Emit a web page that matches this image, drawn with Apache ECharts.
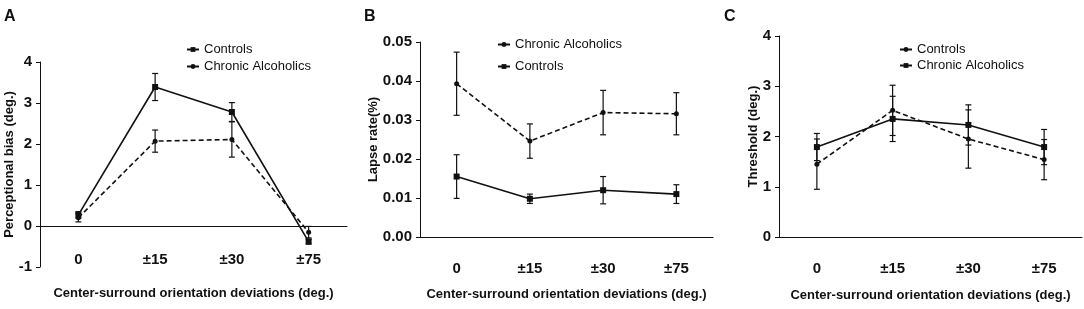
<!DOCTYPE html>
<html>
<head>
<meta charset="utf-8">
<script src="https://cdn.jsdelivr.net/npm/echarts@6/dist/echarts.min.js"></script>
<style>
  html, body { margin: 0; padding: 0; background: #fff; }
  #wrap { position: relative; width: 1084px; height: 309px; }
  .panel { position: absolute; top: 0; height: 309px; }
</style>
</head>
<body>
<div id="wrap">
  <div id="panelA" class="panel" style="left:0;width:360px"></div>
  <div id="panelB" class="panel" style="left:360px;width:360px"></div>
  <div id="panelC" class="panel" style="left:720px;width:364px"></div>
</div>
<script>
// shared x categories
var categories = ["0", "\u00b115", "\u00b130", "\u00b175"];
var xTitle = "Center-surround orientation deviations (deg.)";

// A - perceptional bias
var biasControls = [0.27, 3.39, 2.78, -0.38];
var biasControlsErr = [0.08, 0.33, 0.23, 0.06];
var biasAlcoholics = [0.20, 2.07, 2.11, -0.15];
var biasAlcoholicsErr = [0.10, 0.27, 0.43, 0.14];

// B - lapse rate
var lapseAlcoholics = [0.0393, 0.0246, 0.0319, 0.0316];
var lapseAlcoholicsErr = [0.0081, 0.0044, 0.0057, 0.0054];
var lapseControls = [0.0155, 0.0098, 0.0120, 0.0110];
var lapseControlsErr = [0.0056, 0.0012, 0.0035, 0.0024];

// C - threshold
var threshControls = [1.45, 2.52, 1.95, 1.54];
var threshControlsErr = [0.50, 0.50, 0.58, 0.40];
var threshAlcoholics = [1.79, 2.35, 2.23, 1.79];
var threshAlcoholicsErr = [0.27, 0.45, 0.40, 0.35];

var FONT = "'Liberation Sans', Arial, sans-serif";
var INK = "#111";

function errData(vals, errs) {
  return vals.map(function (v, i) {
    return [i, v - errs[i], v + errs[i]];
  });
}

function errorBars(name, vals, errs) {
  return {
    type: "custom",
    name: name,
    silent: true,
    z: 3,
    data: errData(vals, errs),
    encode: { x: 0, y: [1, 2] },
    renderItem: function (params, api) {
      var x = api.value(0);
      var lo = api.coord([x, api.value(1)]);
      var hi = api.coord([x, api.value(2)]);
      var w = 3;
      var st = { stroke: INK, lineWidth: 1.2 };
      return {
        type: "group",
        children: [
          { type: "line", shape: { x1: lo[0], y1: lo[1], x2: hi[0], y2: hi[1] }, style: st },
          { type: "line", shape: { x1: lo[0] - w, y1: lo[1], x2: lo[0] + w, y2: lo[1] }, style: st },
          { type: "line", shape: { x1: hi[0] - w, y1: hi[1], x2: hi[0] + w, y2: hi[1] }, style: st }
        ]
      };
    }
  };
}

function lineSeries(name, vals, dashed, symbol, size) {
  return {
    type: "line",
    name: name,
    data: vals,
    symbol: symbol,
    symbolSize: size,
    z: 4,
    itemStyle: { color: INK },
    lineStyle: { color: INK, width: 1.6, type: dashed ? [5, 3] : "solid" }
  };
}

function makeChart(id, cfg) {
  var chart = echarts.init(document.getElementById(id));
  var grid = cfg.grid;
  grid.outerBoundsMode = "none";
  grid.containLabel = false;
  chart.setOption({
    animation: false,
    textStyle: { fontFamily: FONT },
    title: {
      text: cfg.letter,
      left: -1,
      top: 4,
      textStyle: { fontSize: 16, fontWeight: "bold", color: INK, fontFamily: FONT }
    },
    legend: {
      orient: "vertical",
      left: cfg.legendLeft,
      top: cfg.legendTop,
      itemWidth: 12,
      itemHeight: 6,
      itemGap: cfg.legendGap,
      data: cfg.legendOrder,
      lineStyle: { type: "solid" },
      textStyle: { fontSize: 13, color: INK, fontFamily: FONT }
    },
    grid: grid,
    xAxis: {
      type: "category",
      data: categories,
      boundaryGap: true,
      name: xTitle,
      nameLocation: "middle",
      nameGap: cfg.xNameGap,
      nameMoveOverlap: false,
      nameTextStyle: { fontSize: 13, fontWeight: "bold", color: INK, fontFamily: FONT },
      axisLine: { onZero: true, lineStyle: { color: INK, width: 1 } },
      axisTick: { alignWithLabel: true, length: 4, lineStyle: { color: INK } },
      axisLabel: { margin: cfg.xLabelMargin, fontSize: 15, fontWeight: "bold", color: INK, fontFamily: FONT }
    },
    yAxis: {
      type: "value",
      min: cfg.yMin,
      max: cfg.yMax,
      interval: cfg.yInterval,
      name: cfg.yTitle,
      nameLocation: "middle",
      nameGap: cfg.yNameGap,
      nameMoveOverlap: false,
      nameTextStyle: { fontSize: 13, fontWeight: "bold", color: INK, fontFamily: FONT },
      axisLine: { show: true, onZero: false, lineStyle: { color: INK, width: 1 } },
      axisTick: { show: true, length: 4, lineStyle: { color: INK } },
      splitLine: { show: false },
      axisLabel: {
        margin: 8,
        fontSize: 15,
        fontWeight: "bold",
        color: INK,
        fontFamily: FONT,
        formatter: cfg.yFormat
      }
    },
    series: cfg.series
  });
  return chart;
}

var chartA = makeChart("panelA", {
  letter: "A",
  legendLeft: 181, legendTop: 38, legendGap: 4,
  legendOrder: ["Controls", "Chronic Alcoholics"],
  grid: { left: 40, top: 62, width: 307, height: 205 },
  xNameGap: 20, xLabelMargin: -15,
  yMin: -1, yMax: 4, yInterval: 1,
  yTitle: "Perceptional bias (deg.)",
  yNameGap: 24,
  yFormat: function (v) { return String(v); },
  series: [
    errorBars("errA1", biasControls, biasControlsErr),
    errorBars("errA2", biasAlcoholics, biasAlcoholicsErr),
    lineSeries("Controls", biasControls, false, "rect", 6),
    lineSeries("Chronic Alcoholics", biasAlcoholics, true, "circle", 5)
  ]
});

var chartB = makeChart("panelB", {
  letter: "B",
  legendLeft: 132, legendTop: 33, legendGap: 9,
  legendOrder: ["Chronic Alcoholics", "Controls"],
  grid: { left: 60, top: 42, width: 293, height: 195 },
  xNameGap: 51, xLabelMargin: 24,
  yMin: 0, yMax: 0.05, yInterval: 0.01,
  yTitle: "Lapse rate(%)",
  yNameGap: 40,
  yFormat: function (v) { return v.toFixed(2); },
  series: [
    errorBars("errB1", lapseAlcoholics, lapseAlcoholicsErr),
    errorBars("errB2", lapseControls, lapseControlsErr),
    lineSeries("Chronic Alcoholics", lapseAlcoholics, true, "circle", 5),
    lineSeries("Controls", lapseControls, false, "rect", 6)
  ]
});

var chartC = makeChart("panelC", {
  letter: "C",
  legendLeft: 174, legendTop: 38, legendGap: 3,
  legendOrder: ["Controls", "Chronic Alcoholics"],
  grid: { left: 59, top: 36, width: 303, height: 201 },
  xNameGap: 52, xLabelMargin: 24,
  yMin: 0, yMax: 4, yInterval: 1,
  yTitle: "Threshold (deg.)",
  yNameGap: 19,
  yFormat: function (v) { return String(v); },
  series: [
    errorBars("errC1", threshControls, threshControlsErr),
    errorBars("errC2", threshAlcoholics, threshAlcoholicsErr),
    lineSeries("Controls", threshControls, true, "circle", 5),
    lineSeries("Chronic Alcoholics", threshAlcoholics, false, "rect", 6)
  ]
});
</script>
</body>
</html>
